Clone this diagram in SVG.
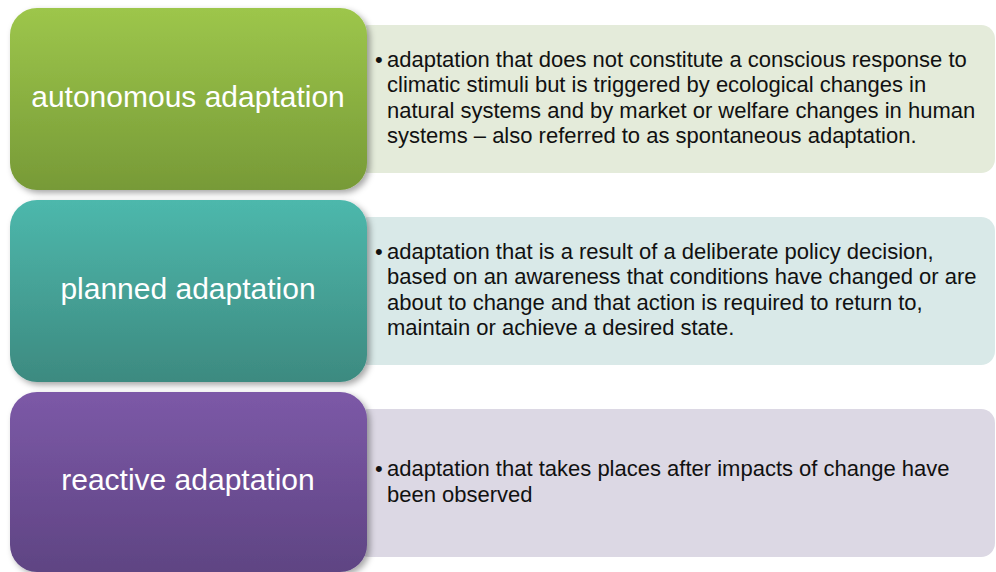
<svg xmlns="http://www.w3.org/2000/svg" width="996" height="572" viewBox="0 0 996 572">
  <defs>
    <linearGradient id="gGreen" x1="0" y1="0" x2="0" y2="1">
      <stop offset="0" stop-color="#9dc64b"/>
      <stop offset="1" stop-color="#779a37"/>
    </linearGradient>
    <linearGradient id="gTeal" x1="0" y1="0" x2="0" y2="1">
      <stop offset="0" stop-color="#4db8ac"/>
      <stop offset="1" stop-color="#3d8a80"/>
    </linearGradient>
    <linearGradient id="gPurple" x1="0" y1="0" x2="0" y2="1">
      <stop offset="0" stop-color="#7c59a7"/>
      <stop offset="1" stop-color="#5f4483"/>
    </linearGradient>
    <filter id="shadow" x="-10%" y="-10%" width="125%" height="125%">
      <feDropShadow dx="3" dy="3" stdDeviation="3" flood-color="#000" flood-opacity="0.35"/>
    </filter>
  </defs>
  <style>
    .label { font-family: "Liberation Sans", Arial, sans-serif; font-size: 30px; fill: #ffffff; text-anchor: middle; }
    .desc { font-family: "Liberation Sans", Arial, sans-serif; font-size: 22px; fill: #111111; }
    .detail { rx: 14px; ry: 14px; }
    .head { rx: 27px; ry: 27px; filter: url(#shadow); }
  </style>

  <rect width="996" height="572" fill="#ffffff"/>

  <!-- autonomous adaptation -->
  <g id="autonomous">
    <rect class="detail" x="355" y="25" width="640" height="148" fill="#e4ebda"/>
    <rect class="head" x="10" y="8" width="357" height="182" fill="url(#gGreen)"/>
    <text class="label" x="188" y="107">autonomous adaptation</text>
    <text class="desc">
      <tspan x="375" y="67">•</tspan><tspan x="387" y="67">adaptation that does not constitute a conscious response to</tspan>
      <tspan x="387" y="92">climatic stimuli but is triggered by ecological changes in</tspan>
      <tspan x="387" y="118">natural systems and by market or welfare changes in human</tspan>
      <tspan x="387" y="143">systems – also referred to as spontaneous adaptation.</tspan>
    </text>
  </g>

  <!-- planned adaptation -->
  <g id="planned">
    <rect class="detail" x="355" y="217" width="640" height="148" fill="#d9e9e8"/>
    <rect class="head" x="10" y="200" width="357" height="182" fill="url(#gTeal)"/>
    <text class="label" x="188" y="299">planned adaptation</text>
    <text class="desc">
      <tspan x="375" y="259">•</tspan><tspan x="387" y="259">adaptation that is a result of a deliberate policy decision,</tspan>
      <tspan x="387" y="284">based on an awareness that conditions have changed or are</tspan>
      <tspan x="387" y="310">about to change and that action is required to return to,</tspan>
      <tspan x="387" y="335">maintain or achieve a desired state.</tspan>
    </text>
  </g>

  <!-- reactive adaptation -->
  <g id="reactive">
    <rect class="detail" x="355" y="409" width="640" height="148" fill="#dcd8e4"/>
    <rect class="head" x="10" y="392" width="357" height="180" fill="url(#gPurple)"/>
    <text class="label" x="188" y="490">reactive adaptation</text>
    <text class="desc">
      <tspan x="375" y="476">•</tspan><tspan x="387" y="476">adaptation that takes places after impacts of change have</tspan>
      <tspan x="387" y="502">been observed</tspan>
    </text>
  </g>
</svg>
